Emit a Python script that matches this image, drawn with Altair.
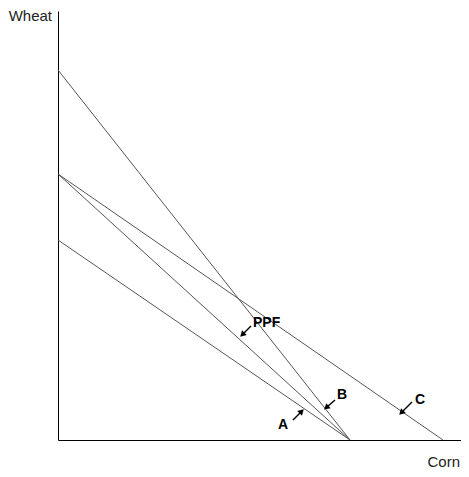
import altair as alt
import pandas as pd

# Lines: start on Wheat axis, end on Corn axis (data units)
line_names = ["steep", "PPF", "C", "A"]
line_wheat = [370, 266, 266, 200]
line_corn = [292, 292, 385, 292]

# Arrow annotations
ann_labels = ["PPF", "B", "A", "C"]
ann_text_x = [195, 279, 220, 357]
ann_text_y = [117, 45, 15, 40]
arrow_tail_x = [193, 277, 235, 354]
arrow_tail_y = [114, 40, 20, 38]
arrow_head_x = [185, 269, 243, 344]
arrow_head_y = [106, 33, 28, 28]
arrow_angle = [225, 230, 45, 225]

rows = []
for n, w, c in zip(line_names, line_wheat, line_corn):
    rows.append({"name": n, "x": 0, "y": w, "o": 0})
    rows.append({"name": n, "x": c, "y": 0, "o": 1})
lines_df = pd.DataFrame(rows)

arr_rows = []
for i, lab in enumerate(ann_labels):
    arr_rows.append({"name": lab, "x": arrow_tail_x[i], "y": arrow_tail_y[i], "o": 0})
    arr_rows.append({"name": lab, "x": arrow_head_x[i], "y": arrow_head_y[i], "o": 1})
arr_df = pd.DataFrame(arr_rows)

head_df = pd.DataFrame({
    "name": ann_labels,
    "x": arrow_head_x,
    "y": arrow_head_y,
    "angle": arrow_angle,
})
text_df = pd.DataFrame({"label": ann_labels, "x": ann_text_x, "y": ann_text_y})

xs = alt.Scale(domain=[0, 403], nice=False, zero=False)
ys = alt.Scale(domain=[0, 429], nice=False, zero=False)
ax = alt.Axis(labels=False, ticks=False, grid=False, title=None, domainColor="black", domainWidth=1)

base_lines = alt.Chart(lines_df).mark_line(color="#555", strokeWidth=1).encode(
    x=alt.X("x:Q", scale=xs, axis=ax),
    y=alt.Y("y:Q", scale=ys, axis=ax),
    detail="name:N",
    order="o:Q",
)

arrows = alt.Chart(arr_df).mark_line(color="black", strokeWidth=1.5).encode(
    x=alt.X("x:Q", scale=xs),
    y=alt.Y("y:Q", scale=ys),
    detail="name:N",
    order="o:Q",
)

heads = alt.Chart(head_df).mark_point(shape="triangle", filled=True, color="black", size=45, opacity=1).encode(
    x=alt.X("x:Q", scale=xs),
    y=alt.Y("y:Q", scale=ys),
    angle=alt.Angle("angle:Q", scale=None),
)

texts = alt.Chart(text_df).mark_text(
    align="left", baseline="middle", fontSize=14, fontWeight="bold", font="Liberation Sans", color="black"
).encode(
    x=alt.X("x:Q", scale=xs),
    y=alt.Y("y:Q", scale=ys),
    text="label:N",
)

axis_titles = ["Wheat", "Corn"]
axis_title_x = [-6, 402]
axis_title_y = [424, -22]
axis_title_df = pd.DataFrame({"label": axis_titles, "x": axis_title_x, "y": axis_title_y})
titles = alt.Chart(axis_title_df).mark_text(
    align="right", baseline="middle", fontSize=15, font="Liberation Sans", color="#222"
).encode(x=alt.X("x:Q", scale=xs), y=alt.Y("y:Q", scale=ys), text="label:N")

chart = alt.layer(base_lines, arrows, heads, texts, titles).properties(
    width=403,
    height=429,
    background="white",
    autosize=alt.AutoSizeParams(type="none"),
    padding={"left": 50, "top": 3, "right": 0, "bottom": 29},
).configure_view(stroke=None, strokeWidth=0)

chart.save("out.html", embed_options={"renderer": "svg", "actions": False})
